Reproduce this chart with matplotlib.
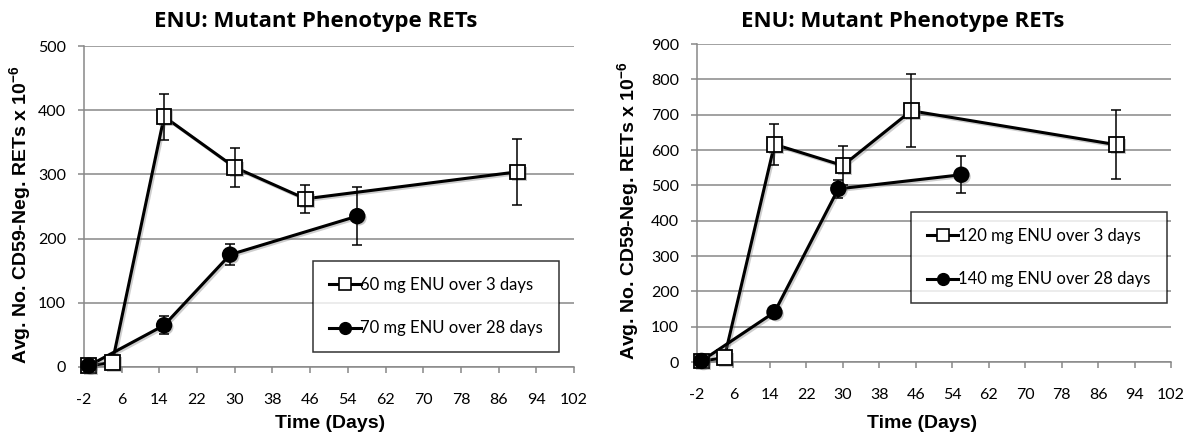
import numpy as np
import matplotlib
matplotlib.use("Agg")
import matplotlib.pyplot as plt
import matplotlib.patheffects as pe
from matplotlib.lines import Line2D

# Days of sampling
days_3d = [-1, 4, 15, 30, 45, 90]
days_28d = [-1, 15, 29, 56]

# Left panel: 60 mg vs 70 mg
low_3d = [2, 7, 390, 311, 262, 304]
low_3d_err = [0, 0, 36, 30, 22, 51]
low_28d = [2, 65, 175, 235]
low_28d_err = [0, 14, 16, 45]

# Right panel: 120 mg vs 140 mg
high_3d = [3, 12, 616, 556, 711, 615]
high_3d_err = [0, 0, 58, 55, 103, 97]
high_28d = [3, 141, 490, 530]
high_28d_err = [0, 12, 26, 53]

labels_low = ["60 mg ENU over 3 days", "70 mg ENU over 28 days"]
labels_high = ["120 mg ENU over 3 days", "140 mg ENU over 28 days"]
x_ticks = list(range(-2, 103, 8))

title = "ENU: Mutant Phenotype RETs"
ylabel = "Avg. No. CD59-Neg. RETs x 10$^{-6}$"
xlabel = "Time (Days)"

plt.rcParams["axes.unicode_minus"] = False
plt.rcParams["mathtext.fontset"] = "custom"
plt.rcParams["mathtext.default"] = "bf"
plt.rcParams["mathtext.bf"] = "Liberation Sans:bold"
plt.rcParams["mathtext.rm"] = "Liberation Sans:bold"

GRID = "#888888"
W, H = 1190, 437
line_shadow = [pe.SimpleLineShadow(offset=(1.2, -1.2), shadow_color="0.45",
                                   alpha=0.35), pe.Normal()]
mark_shadow = [pe.SimplePatchShadow(offset=(1.5, -1.5), shadow_rgbFace="0.4",
                                    alpha=0.35), pe.Normal()]


def draw_series(ax, x, y, err, marker, face):
    ax.plot(x, y, color="black", lw=2.2, zorder=3, clip_on=False,
            path_effects=line_shadow)
    ax.plot(x, y, ls="none", marker=marker, ms=10.5, mfc=face, mec="black",
            mew=1.3, zorder=4, clip_on=False, path_effects=mark_shadow)
    err = np.asarray(err, dtype=float)
    err = np.where(err > 0, err, np.nan)
    ax.errorbar(x, y, yerr=err, fmt="none", ecolor="black", elinewidth=1.1,
                capsize=3.5, capthick=1.1, zorder=5)


def draw_panel(ax, s3, e3, s28, e28, ymax, labels, leg_box):
    draw_series(ax, days_3d, s3, e3, "s", "white")
    draw_series(ax, days_28d, s28, e28, "o", "black")

    ax.set_xlim(-2, 102)
    ax.set_ylim(0, ymax)
    ax.set_xticks(x_ticks)
    ax.set_yticks(np.arange(0, ymax + 1, 100))
    ax.grid(axis="y", color=GRID, lw=1.1)
    ax.set_axisbelow(True)
    for side in ("top", "right"):
        ax.spines[side].set_visible(False)
    for side in ("left", "bottom"):
        ax.spines[side].set_color(GRID)
        ax.spines[side].set_linewidth(1.1)
    ax.tick_params(axis="x", direction="out", length=4, width=1.1,
                   color=GRID, pad=15, labelsize=11.5)
    ax.tick_params(axis="y", direction="out", length=4, width=1.1,
                   color=GRID, pad=9, labelsize=11.5)
    for lab in ax.get_xticklabels() + ax.get_yticklabels():
        lab.set_fontfamily("Lato")

    handles = [
        Line2D([], [], color="black", lw=2.2, marker="s", ms=8,
               mfc="white", mec="black", mew=1.2),
        Line2D([], [], color="black", lw=2.2, marker="o", ms=8.5,
               mfc="black", mec="black"),
    ]
    leg = ax.legend(handles, labels, loc="upper left", bbox_to_anchor=leg_box,
                    bbox_transform=ax.figure.transFigure,
                    prop={"family": "Lato", "size": 12},
                    frameon=True, fancybox=False, edgecolor="black",
                    handlelength=1.9, handletextpad=0.0, labelspacing=1.65,
                    borderpad=0.95, borderaxespad=0)
    leg.get_frame().set_linewidth(1.1)


fig = plt.figure(figsize=(W / 100, H / 100), dpi=100)

ax1 = fig.add_axes([84 / W, 1 - 367 / H, 490 / W, 321 / H])
ax2 = fig.add_axes([697 / W, 1 - 362 / H, 474 / W, 318 / H])

draw_panel(ax1, low_3d, low_3d_err, low_28d, low_28d_err, 500,
           labels_low, (313 / W, 1 - 261 / H))
draw_panel(ax2, high_3d, high_3d_err, high_28d, high_28d_err, 900,
           labels_high, (911 / W, 1 - 212 / H))

# Titles and axis labels placed in figure pixels
for tx, lx, ly, xx in ((316, 20, 215, 330), (903, 628, 211, 922)):
    fig.text(tx / W, 1 - 21 / H, title, ha="center", va="center",
             family="Open Sans", weight="bold", fontsize=16)
    fig.text(lx / W, 1 - ly / H, ylabel, ha="center", va="center",
             rotation=90, family="Liberation Sans", weight="bold",
             fontsize=14)
    fig.text(xx / W, 1 - 423 / H, xlabel, ha="center", va="center",
             family="Liberation Sans", weight="bold", fontsize=14)

fig.savefig("out.png", dpi=100, facecolor="white")
